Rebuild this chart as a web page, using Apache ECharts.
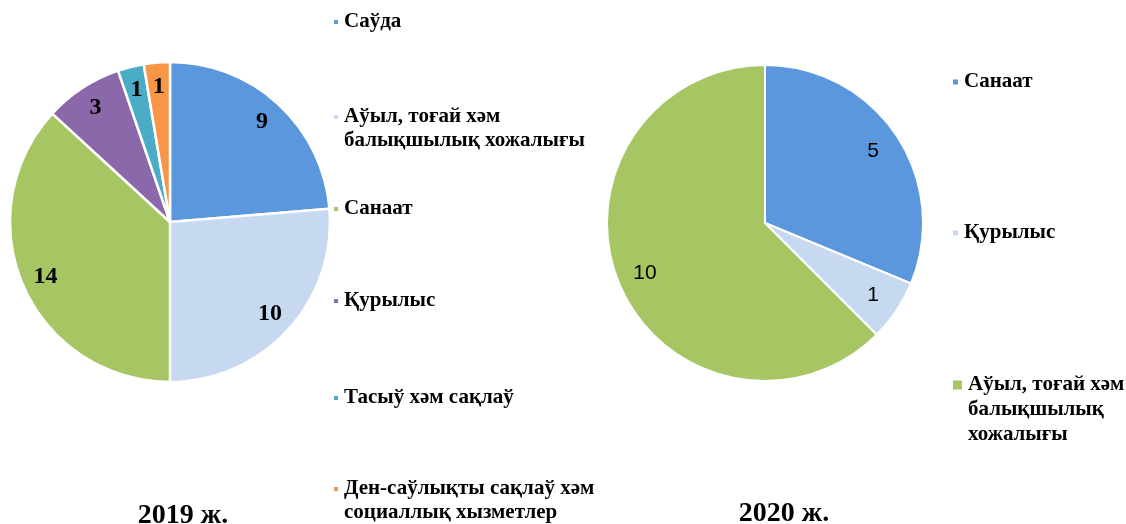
<!DOCTYPE html>
<html>
<head>
<meta charset="utf-8">
<script src="https://cdn.jsdelivr.net/npm/echarts@6/dist/echarts.min.js"></script>
<style>
  html, body { margin: 0; padding: 0; background: #fff; }
  #chart { width: 1126px; height: 524px; }
</style>
</head>
<body>
<div id="chart"></div>
<script>
// 2019 data
var names2019 = ['Саўда', 'Аўыл, тоғай хәм балықшылық хожалығы', 'Санаат', 'Қурылыс', 'Тасыў хәм сақлаў', 'Ден-саўлықты сақлаў хәм социаллық хызметлер'];
var values2019 = [9, 10, 14, 3, 1, 1];
var colors2019 = ['#5b97dd', '#c6d9f1', '#a6c664', '#8a68a9', '#4bacc6', '#f79646'];
var legendText2019 = ['Саўда', 'Аўыл, тоғай хәм\nбалықшылық хожалығы', 'Санаат', 'Қурылыс', 'Тасыў хәм сақлаў', 'Ден-саўлықты сақлаў хәм\nсоциаллық хызметлер'];

// 2020 data
var names2020 = ['Санаат', 'Қурылыс', 'Аўыл, тоғай хәм балықшылық хожалығы'];
var values2020 = [5, 1, 10];
var colors2020 = ['#5b97dd', '#c6d9f1', '#a6c664'];
var legendText2020 = ['Санаат', 'Қурылыс', 'Аўыл, тоғай хәм\nбалықшылық\nхожалығы'];

var titles = ['2019 ж.', '2020 ж.'];

// layout: y of each legend marker
var legendY2019 = [22, 117, 209, 301, 398, 489];
var legendY2020 = [82, 233, 385];

function toData(names, values, colors) {
    var out = [];
    for (var i = 0; i < names.length; i++) {
        var item = { name: names[i], value: values[i] };
        if (colors) item.itemStyle = { color: colors[i] };
        out.push(item);
    }
    return out;
}

function makeLegends(names, texts, colors, ys, left, lh, iconSize) {
    var list = [];
    for (var i = 0; i < names.length; i++) {
        var n = texts[i].split('\n').length;
        // blank lines in front so the first real line sits level with the marker
        var txt = new Array(n).join('\n') + texts[i];
        var size = typeof iconSize === 'number' ? iconSize : iconSize[i];
        list.push({
            left: left,
            top: ys[i] - (2 * n - 1) * lh / 2,
            padding: 0,
            selectedMode: false,
            icon: 'rect',
            itemWidth: size,
            itemHeight: size,
            data: [{ name: names[i], itemStyle: { color: colors[i] } }],
            formatter: (function (t) { return function () { return t; }; })(txt),
            textStyle: {
                fontFamily: 'Liberation Serif',
                fontWeight: 'bold',
                fontSize: 21,
                color: '#000',
                lineHeight: lh
            }
        });
    }
    return list;
}

var legends = makeLegends(names2019, legendText2019, colors2019, legendY2019, 332, 24, 6)
    .concat(makeLegends(names2020, legendText2020, colors2020, legendY2020, 951, 25, [7, 7, 11]));

var titleFont = { fontFamily: 'Liberation Serif', fontWeight: 'bold', fontSize: 28, color: '#000' };

var myChart = echarts.init(document.getElementById('chart'));
var option = {
    backgroundColor: '#fff',
    animation: false,
    title: [{
        text: titles[0],
        left: 178,
        top: 497,
        textAlign: 'center',
        textStyle: titleFont
    }, {
        text: titles[1],
        left: 779,
        top: 495,
        textAlign: 'center',
        textStyle: titleFont
    }],
    legend: legends,
    series: [{
        type: 'pie',
        center: [170, 222],
        radius: [0, 160],
        startAngle: 90,
        avoidLabelOverlap: false,
        label: { show: false },
        labelLine: { show: false },
        itemStyle: { borderColor: '#fff', borderWidth: 2.5 },
        emphasis: { disabled: true },
        data: toData(names2019, values2019, colors2019)
    }, {
        // transparent ring only to put the labels at ~0.84r
        type: 'pie',
        center: [170, 222],
        radius: [106, 160],
        startAngle: 90,
        silent: true,
        avoidLabelOverlap: false,
        itemStyle: { color: 'rgba(0,0,0,0)', borderWidth: 0 },
        label: {
            show: true,
            position: 'inside',
            formatter: '{c}',
            fontFamily: 'Liberation Serif',
            fontWeight: 'bold',
            fontSize: 24,
            color: '#000'
        },
        labelLine: { show: false },
        emphasis: { disabled: true },
        data: toData(names2019, values2019)
    }, {
        type: 'pie',
        center: [765, 223],
        radius: [0, 158],
        startAngle: 90,
        avoidLabelOverlap: false,
        label: { show: false },
        labelLine: { show: false },
        itemStyle: { borderColor: '#fff', borderWidth: 2 },
        emphasis: { disabled: true },
        data: toData(names2020, values2020, colors2020)
    }, {
        type: 'pie',
        center: [765, 223],
        radius: [96, 158],
        startAngle: 90,
        silent: true,
        avoidLabelOverlap: false,
        itemStyle: { color: 'rgba(0,0,0,0)', borderWidth: 0 },
        label: {
            show: true,
            position: 'inside',
            formatter: '{c}',
            fontFamily: 'Liberation Sans',
            fontSize: 21,
            color: '#000'
        },
        labelLine: { show: false },
        emphasis: { disabled: true },
        data: toData(names2020, values2020)
    }]
};
myChart.setOption(option);
window.onresize = myChart.resize;
</script>
</body>
</html>
